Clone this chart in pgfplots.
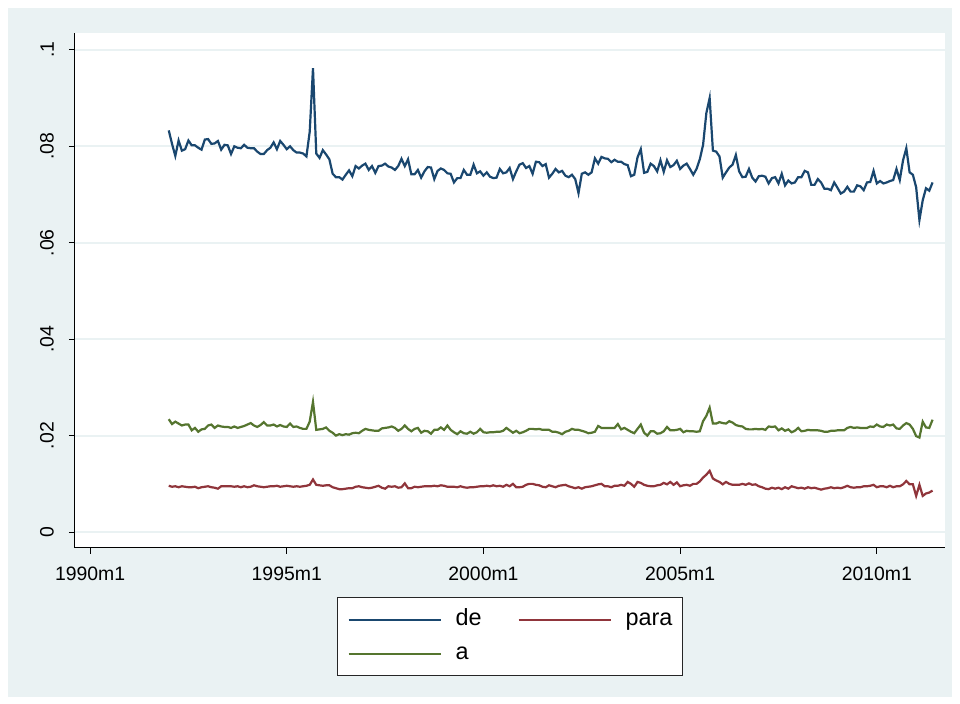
\documentclass[border=0pt]{standalone}
\usepackage{fontspec}
\setmainfont{Liberation Sans}
\usepackage{pgfplots}
\usepackage{pgfplotstable}
\pgfplotsset{compat=1.18}

\definecolor{stnavy}{RGB}{26,71,111}
\definecolor{stmaroon}{RGB}{144,53,59}
\definecolor{stgreen}{RGB}{85,117,47}
\definecolor{stbg}{RGB}{234,242,243}

% monthly series, m = Stata %tm (1990m1 = 360)
\pgfplotstableread{
m de para a
384 .0833 .0096 .0234
385 .0805 .0094 .0224
386 .0780 .0095 .0229
387 .0812 .0093 .0225
388 .0791 .0095 .0221
389 .0794 .0094 .0223
390 .0812 .0093 .0223
391 .0802 .0093 .0211
392 .0802 .0094 .0216
393 .0797 .0091 .0208
394 .0793 .0093 .0213
395 .0814 .0094 .0214
396 .0815 .0095 .0221
397 .0805 .0093 .0223
398 .0806 .0092 .0216
399 .0811 .0090 .0221
400 .0793 .0095 .0219
401 .0803 .0095 .0218
402 .0802 .0095 .0218
403 .0784 .0095 .0216
404 .0800 .0094 .0219
405 .0797 .0095 .0216
406 .0796 .0093 .0218
407 .0803 .0095 .0220
408 .0797 .0093 .0223
409 .0796 .0094 .0226
410 .0796 .0097 .0221
411 .0789 .0095 .0218
412 .0784 .0094 .0222
413 .0784 .0093 .0228
414 .0792 .0094 .0221
415 .0797 .0095 .0221
416 .0808 .0095 .0223
417 .0794 .0096 .0219
418 .0811 .0094 .0222
419 .0803 .0095 .0219
420 .0794 .0096 .0218
421 .0800 .0095 .0225
422 .0792 .0094 .0218
423 .0787 .0095 .0219
424 .0787 .0094 .0216
425 .0785 .0095 .0214
426 .0779 .0096 .0214
427 .0830 .0098 .0229
428 .0962 .0109 .0270
429 .0785 .0098 .0212
430 .0776 .0097 .0213
431 .0792 .0096 .0214
432 .0783 .0097 .0217
433 .0773 .0097 .0210
434 .0743 .0093 .0206
435 .0736 .0091 .0200
436 .0736 .0089 .0203
437 .0731 .0089 .0201
438 .0741 .0090 .0203
439 .0750 .0091 .0202
440 .0738 .0091 .0205
441 .0759 .0094 .0206
442 .0754 .0095 .0205
443 .0760 .0093 .0210
444 .0764 .0092 .0214
445 .0751 .0091 .0212
446 .0759 .0092 .0211
447 .0745 .0094 .0210
448 .0759 .0096 .0210
449 .0760 .0092 .0215
450 .0764 .0090 .0216
451 .0758 .0095 .0217
452 .0756 .0094 .0219
453 .0751 .0095 .0216
454 .0759 .0092 .0210
455 .0774 .0093 .0214
456 .0759 .0101 .0221
457 .0773 .0091 .0214
458 .0742 .0091 .0209
459 .0742 .0094 .0214
460 .0751 .0093 .0216
461 .0735 .0094 .0206
462 .0748 .0095 .0210
463 .0757 .0095 .0209
464 .0756 .0095 .0204
465 .0732 .0096 .0212
466 .0749 .0095 .0212
467 .0754 .0097 .0217
468 .0751 .0096 .0212
469 .0744 .0094 .0221
470 .0743 .0094 .0212
471 .0725 .0094 .0207
472 .0734 .0093 .0203
473 .0734 .0095 .0209
474 .0751 .0093 .0205
475 .0741 .0092 .0204
476 .0741 .0093 .0208
477 .0762 .0093 .0204
478 .0744 .0094 .0207
479 .0748 .0095 .0214
480 .0739 .0095 .0207
481 .0746 .0096 .0206
482 .0737 .0095 .0207
483 .0734 .0097 .0207
484 .0735 .0095 .0208
485 .0753 .0096 .0208
486 .0744 .0094 .0210
487 .0746 .0098 .0216
488 .0755 .0095 .0211
489 .0732 .0100 .0206
490 .0748 .0093 .0210
491 .0762 .0093 .0205
492 .0765 .0094 .0207
493 .0755 .0098 .0210
494 .0759 .0100 .0214
495 .0743 .0100 .0214
496 .0768 .0098 .0213
497 .0767 .0097 .0214
498 .0759 .0094 .0212
499 .0763 .0093 .0212
500 .0735 .0097 .0212
501 .0743 .0095 .0208
502 .0753 .0093 .0208
503 .0746 .0096 .0206
504 .0749 .0097 .0203
505 .0739 .0098 .0208
506 .0736 .0095 .0210
507 .0741 .0093 .0214
508 .0732 .0091 .0212
509 .0703 .0093 .0212
510 .0743 .0090 .0210
511 .0746 .0093 .0208
512 .0741 .0094 .0205
513 .0746 .0095 .0206
514 .0775 .0097 .0208
515 .0764 .0099 .0220
516 .0778 .0100 .0216
517 .0775 .0095 .0216
518 .0774 .0095 .0216
519 .0767 .0093 .0216
520 .0772 .0096 .0216
521 .0768 .0096 .0224
522 .0768 .0098 .0213
523 .0763 .0096 .0216
524 .0761 .0104 .0212
525 .0738 .0100 .0208
526 .0741 .0094 .0205
527 .0777 .0104 .0214
528 .0794 .0102 .0223
529 .0745 .0098 .0206
530 .0747 .0096 .0200
531 .0764 .0095 .0209
532 .0759 .0095 .0209
533 .0748 .0097 .0204
534 .0771 .0098 .0205
535 .0747 .0102 .0209
536 .0771 .0099 .0218
537 .0757 .0104 .0211
538 .0761 .0098 .0211
539 .0770 .0103 .0212
540 .0753 .0095 .0214
541 .0760 .0097 .0207
542 .0764 .0098 .0210
543 .0753 .0096 .0209
544 .0741 .0100 .0209
545 .0753 .0100 .0208
546 .0773 .0105 .0209
547 .0803 .0113 .0230
548 .0869 .0119 .0241
549 .0900 .0127 .0258
550 .0791 .0111 .0225
551 .0789 .0107 .0225
552 .0779 .0104 .0228
553 .0735 .0099 .0226
554 .0746 .0104 .0225
555 .0756 .0100 .0230
556 .0762 .0098 .0227
557 .0782 .0098 .0222
558 .0748 .0098 .0220
559 .0736 .0100 .0219
560 .0737 .0098 .0214
561 .0753 .0101 .0213
562 .0735 .0098 .0213
563 .0727 .0099 .0214
564 .0738 .0095 .0213
565 .0739 .0093 .0214
566 .0737 .0090 .0212
567 .0723 .0089 .0219
568 .0734 .0092 .0218
569 .0736 .0090 .0219
570 .0723 .0092 .0211
571 .0743 .0089 .0215
572 .0719 .0093 .0210
573 .0729 .0090 .0213
574 .0723 .0095 .0207
575 .0725 .0093 .0210
576 .0736 .0091 .0216
577 .0736 .0092 .0209
578 .0749 .0090 .0210
579 .0746 .0093 .0212
580 .0720 .0091 .0211
581 .0720 .0092 .0211
582 .0732 .0090 .0211
583 .0725 .0088 .0210
584 .0712 .0090 .0208
585 .0712 .0091 .0208
586 .0709 .0093 .0210
587 .0725 .0091 .0210
588 .0714 .0092 .0211
589 .0702 .0091 .0211
590 .0706 .0093 .0211
591 .0716 .0096 .0216
592 .0706 .0093 .0218
593 .0706 .0092 .0216
594 .0719 .0093 .0217
595 .0717 .0093 .0216
596 .0709 .0095 .0216
597 .0725 .0095 .0216
598 .0726 .0096 .0219
599 .0749 .0098 .0218
600 .0723 .0093 .0223
601 .0728 .0095 .0219
602 .0723 .0095 .0218
603 .0725 .0093 .0223
604 .0728 .0096 .0221
605 .0730 .0093 .0223
606 .0753 .0095 .0215
607 .0730 .0095 .0214
608 .0771 .0099 .0221
609 .0796 .0106 .0226
610 .0746 .0099 .0223
611 .0741 .0099 .0214
612 .0715 .0075 .0199
613 .0647 .0098 .0196
614 .0688 .0075 .0229
615 .0713 .0080 .0217
616 .0708 .0082 .0216
617 .0725 .0086 .0233
}\series

\begin{document}
\begin{tikzpicture}
% page and graph region (1px = 0.5pt, axis origin at px (75,548))
\fill[white] (-37.5pt,-78pt) rectangle (442.5pt,274pt);
\fill[stbg] (-33.5pt,-74.5pt) rectangle (438.5pt,270pt);
\begin{axis}[
    at={(0pt,0pt)}, anchor=south west,
    scale only axis,
    width=435pt, height=257.5pt,
    xmin=355.4, xmax=620.8,
    ymin=-0.0033, ymax=0.1035,
    axis x line*=bottom, axis y line*=left,
    axis line style={black, line width=0.5pt},
    axis background/.style={fill=white},
    xtick={360,420,480,540,600},
    xticklabels={1990m1,1995m1,2000m1,2005m1,2010m1},
    ytick={0,0.02,0.04,0.06,0.08,0.1},
    yticklabels={0,.02,.04,.06,.08,.1},
    tick align=outside,
    major tick length=3pt,
    tick style={black, line width=0.5pt},
    ymajorgrids,
    grid style={stbg, line width=0.9pt},
    tick label style={font=\fontsize{9.7}{11}\selectfont},
    yticklabel style={rotate=90, anchor=south},
    yticklabel shift=4pt,
    xticklabel shift=3pt,
    legend columns=2,
    legend cell align=left,
    legend image code/.code={\draw[#1, line width=1pt] (0pt,0pt) -- (46pt,0pt);},
    legend style={
        at={(0.5,-0.0951)}, anchor=north,
        draw=black!85, line width=0.6pt, fill=white,
        font=\fontsize{11.7}{14}\selectfont,
        inner xsep=5pt, inner ysep=4pt,
        row sep=3pt,
        nodes={inner xsep=0pt, inner ysep=1pt, text height=9pt, text depth=3pt},
        /tikz/every odd column/.append style={column sep=7pt},
        /tikz/every even column/.append style={column sep=18pt},
    },
]
\addplot[stnavy, line width=1.1pt] table[x=m, y=de] {\series};
\addlegendentry{de}
\addplot[stmaroon, line width=1.1pt] table[x=m, y=para] {\series};
\addlegendentry{para}
\addplot[stgreen, line width=1.1pt] table[x=m, y=a] {\series};
\addlegendentry{a}
\end{axis}
\end{tikzpicture}
\end{document}
